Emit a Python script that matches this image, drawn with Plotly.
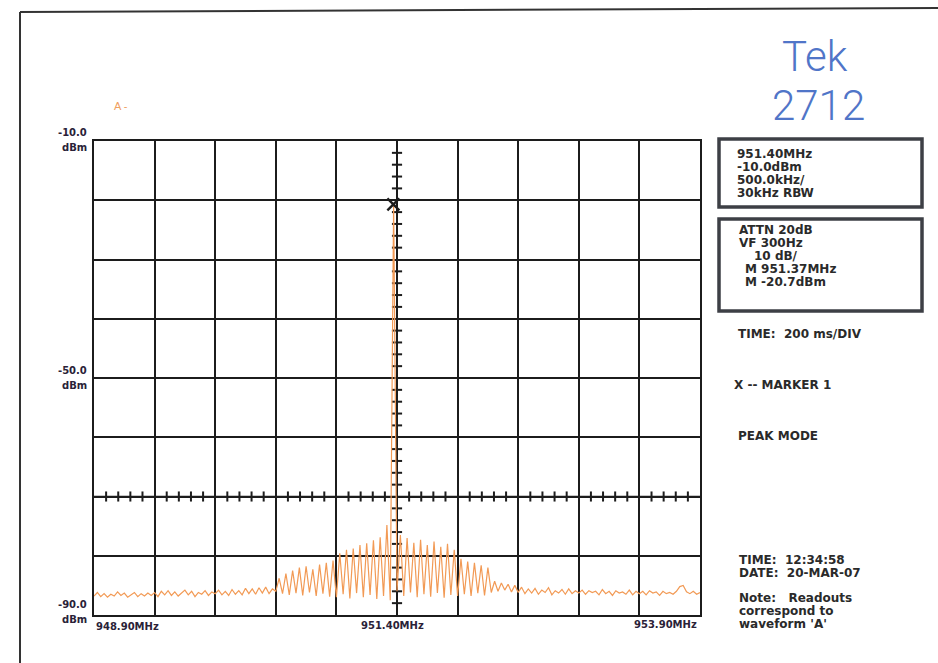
import numpy as np
import plotly.graph_objects as go

# Spectrum analyzer sweep: 948.90 - 953.90 MHz, 181 points, level in dBm
start_mhz = 948.90
stop_mhz = 953.90
center_mhz = 951.40
ref_level = -10.0
bottom_level = -90.0

level_dbm = [
    # 948.90 - 949.40
    -86.8, -86.2, -86.9, -86.4, -87.0, -86.5, -86.8, -86.1, -86.7, -86.3, -87.0, -86.6, -86.2, -86.9, -86.4, -86.8, -86.3, -86.7,
    # 949.40 - 949.90
    -86.2, -86.9, -86.0, -86.6, -85.9, -86.7, -86.1, -86.8, -86.3, -85.8, -86.6, -86.0, -86.9, -86.2, -86.5, -85.9, -86.7, -86.1,
    # 949.90 - 950.40
    -86.4, -85.8, -86.6, -86.0, -86.7, -85.7, -86.5, -85.9, -86.6, -85.5, -86.4, -85.6, -86.5, -85.4, -86.3, -85.3, -86.4, -85.6,
    # 950.40 - 950.90
    -86.0, -83.8, -86.4, -83.0, -86.6, -82.5, -86.3, -82.0, -86.7, -81.8, -86.2, -82.3, -86.8, -81.5, -86.4, -81.2, -86.9, -80.8,
    # 950.90 - 951.40 (carrier at 951.37)
    -87.0, -79.6, -86.5, -79.0, -87.2, -78.8, -86.3, -78.2, -87.0, -77.9, -86.6, -77.4, -87.3, -76.9, -86.8, -74.8, -87.5, -20.7,
    # 951.40 - 951.90
    -86.0, -76.5, -86.8, -77.0, -86.2, -77.8, -87.0, -77.3, -86.5, -78.2, -86.9, -77.6, -86.3, -78.5, -87.1, -78.0, -86.6, -79.0,
    # 951.90 - 952.40
    -86.8, -80.5, -86.5, -81.0, -86.8, -81.2, -86.3, -81.6, -86.7, -82.0, -86.2, -84.3, -86.0, -84.6, -85.8, -84.8, -86.1, -85.0,
    # 952.40 - 952.90
    -86.2, -85.3, -86.4, -85.6, -86.3, -85.5, -86.5, -85.8, -86.2, -85.4, -86.6, -85.9, -86.3, -85.7, -86.5, -85.6, -86.4, -85.9,
    # 952.90 - 953.40
    -86.3, -85.8, -86.5, -85.9, -86.2, -86.0, -86.6, -85.7, -86.4, -86.0, -86.7, -85.9, -86.3, -86.1, -86.5, -85.8, -86.6, -86.0,
    # 953.40 - 953.90
    -86.4, -86.0, -86.6, -85.9, -86.3, -86.1, -86.7, -86.0, -86.4, -86.2, -86.5, -86.0, -85.2, -85.0, -86.1, -86.4, -86.0, -86.5,
    -86.2,
]

marker_freq = 951.37
marker_level = -20.7

freq_labels = ["948.90MHz", "951.40MHz", "953.90MHz"]
level_labels = ["-10.0", "-50.0", "-90.0"]

readout_box1 = ["951.40MHz", "-10.0dBm", "500.0kHz/", "30kHz RBW"]
readout_box2 = ["ATTN 20dB", "VF 300Hz", "10 dB/", "M 951.37MHz", "M -20.7dBm"]

freq = start_mhz + np.arange(len(level_dbm)) * (stop_mhz - start_mhz) / (len(level_dbm) - 1)

# page geometry (pixels)
W, H = 938, 663
L, R, T, B = 94, 700, 141, 615


def px(x):
    return (x - L) / (R - L)


def py(y):
    return (B - y) / (B - T)


fig = go.Figure()

# graticule center-axis minor ticks (1/5 division)
div_f = (stop_mhz - start_mhz) / 10
div_a = (ref_level - bottom_level) / 8
hx, hy = [], []
for k in range(51):
    if k % 5 == 0:
        continue
    f = start_mhz + k * div_f / 5
    hx += [f, f, None]
    hy += [-70 - 0.85, -70 + 0.85, None]
vx, vy = [], []
for k in range(41):
    if k % 5 == 0:
        continue
    a = bottom_level + k * div_a / 5
    vx += [center_mhz - 0.042, center_mhz + 0.042, None]
    vy += [a, a, None]
fig.add_trace(go.Scatter(x=hx + vx, y=hy + vy, mode="lines",
                         line=dict(color="#1c1c1c", width=2),
                         hoverinfo="skip", showlegend=False))
# center cross lines
fig.add_trace(go.Scatter(x=[center_mhz, center_mhz, None, start_mhz, stop_mhz],
                         y=[bottom_level, ref_level, None, -70, -70], mode="lines",
                         line=dict(color="#1c1c1c", width=1.6),
                         hoverinfo="skip", showlegend=False))

# waveform A
fig.add_trace(go.Scatter(x=freq, y=level_dbm, mode="lines",
                         line=dict(color="#f29a55", width=1.2),
                         showlegend=False))

# marker 1
fig.add_trace(go.Scatter(x=[marker_freq], y=[marker_level], mode="markers",
                         marker=dict(symbol="x-thin", size=12,
                                     line=dict(color="#1c1c1c", width=2.4)),
                         showlegend=False))

fig.update_xaxes(range=[start_mhz, stop_mhz], tick0=start_mhz, dtick=div_f,
                 showgrid=True, gridcolor="#1c1c1c", gridwidth=1.5,
                 showticklabels=False, ticks="", zeroline=False,
                 showline=True, linecolor="#1c1c1c", linewidth=2, mirror=True)
fig.update_yaxes(range=[bottom_level, ref_level], tick0=bottom_level, dtick=div_a,
                 showgrid=True, gridcolor="#1c1c1c", gridwidth=1.5,
                 showticklabels=False, ticks="", zeroline=False,
                 showline=True, linecolor="#1c1c1c", linewidth=2, mirror=True)

ann = []
lab_font = dict(family="DejaVu Sans", size=10, color="#2a2238", weight="bold")
ro_font = dict(family="DejaVu Sans", size=12, color="#2a2a2a", weight="bold")


def text(x, y, s, font, xanchor="left", yanchor="middle"):
    ann.append(dict(x=px(x), y=py(y), xref="paper", yref="paper", text=s,
                    showarrow=False, xanchor=xanchor, yanchor=yanchor, font=font))


# level labels: value above, unit below
for s, y in zip(level_labels, [139, 377, 611]):
    text(89, y + 1, s, lab_font, "right", "bottom")
    text(89, y + 1, "dBm", lab_font, "right", "top")
# frequency labels
text(94, 626, freq_labels[0], lab_font, "left")
text(359, 625, freq_labels[1], lab_font, "left")
text(699, 624, freq_labels[2], lab_font, "right")

# readouts
for s, y in zip(readout_box1, [154, 167, 180, 193]):
    text(735, y, s, ro_font)
for s, x, y in zip(readout_box2, [737, 737, 752, 743, 743], [230, 243, 256, 269, 282]):
    text(x, y, s, ro_font)
text(736, 334, "TIME:  200 ms/DIV", ro_font)
text(732, 385, "X -- MARKER 1", ro_font)
text(736, 436, "PEAK MODE", ro_font)
text(737, 560, "TIME:  12:34:58", ro_font)
text(737, 573, "DATE:  20-MAR-07", ro_font)
text(737, 598, "Note:   Readouts", ro_font)
text(737, 611, "correspond to", ro_font)
text(737, 624, "waveform 'A'", ro_font)

# instrument name
tek_font = dict(family="Roboto", size=42, color="#5075c8", weight=300)
text(815, 57, "Tek", tek_font, "center")
text(818, 106, "2712", tek_font, "center")
text(112, 106, "A -", dict(family="Liberation Sans", size=11, color="#f0a060"), "left")

shapes = [
    dict(type="rect", xref="paper", yref="paper", x0=px(719), x1=px(922), y0=py(139), y1=py(207),
         line=dict(color="#3d3f45", width=3.5)),
    dict(type="rect", xref="paper", yref="paper", x0=px(719), x1=px(922), y0=py(219), y1=py(311),
         line=dict(color="#3d3f45", width=3.5)),
    dict(type="line", xref="paper", yref="paper", x0=px(20), x1=px(938), y0=py(12), y1=py(8),
         line=dict(color="#333333", width=2)),
    dict(type="line", xref="paper", yref="paper", x0=px(20), x1=px(20), y0=py(12), y1=py(663),
         line=dict(color="#333333", width=2)),
]

fig.update_layout(width=W, height=H, margin=dict(l=L, r=W - R, t=T, b=H - B),
                  paper_bgcolor="white", plot_bgcolor="white",
                  annotations=ann, shapes=shapes, showlegend=False)

fig.write_html("out.html")
